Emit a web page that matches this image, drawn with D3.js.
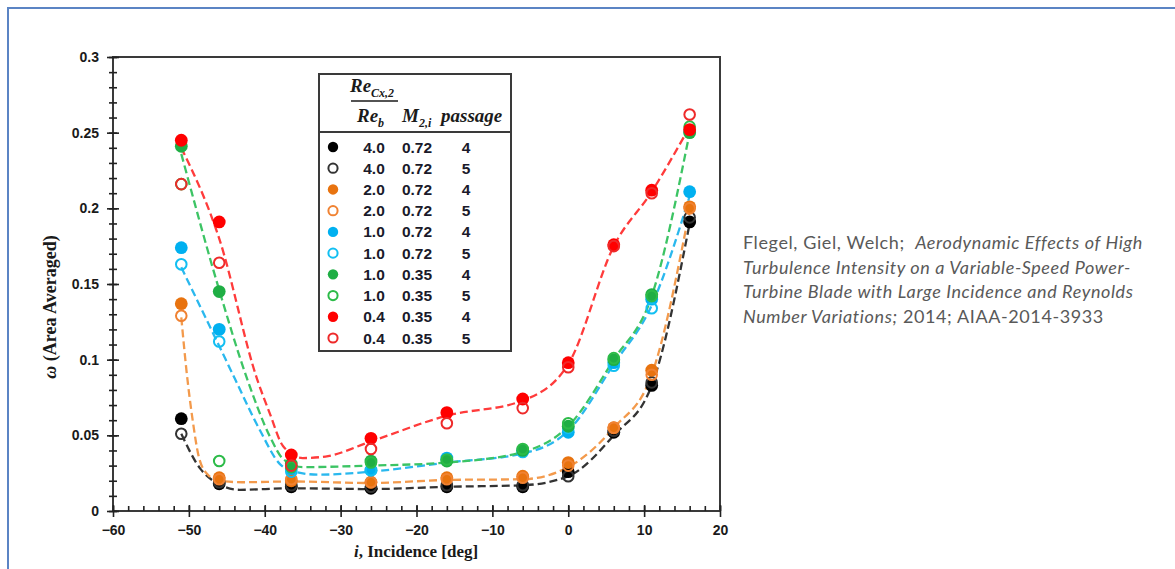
<!DOCTYPE html>
<html>
<head>
<meta charset="utf-8">
<script src="https://cdn.jsdelivr.net/npm/d3@7"></script>
<style>
  body { margin: 0; background: #fff; }
  svg { display: block; }
  .tk text { font-family: "Liberation Sans", Arial, sans-serif; font-weight: bold; font-size: 14px; fill: #1a1a1a; }
  .tk path { display: none; }
  .tk line { stroke: #222; stroke-width: 1.6; }
</style>
</head>
<body>
<svg width="1175" height="569"></svg>
<script>
// incidence angles (deg) where the points were measured
var incidence = [-51, -46, -36.5, -26, -16, -6, 0, 6, 11, 16];

// omega, area averaged, one list per legend row
var re40m72p4 = [0.061, 0.018, 0.016, 0.015, 0.016, 0.016, 0.026, 0.052, 0.083, 0.191];
var re40m72p5 = [0.051, 0.019, 0.017, 0.016, 0.017, 0.017, 0.023, 0.053, 0.085, 0.194];
var re20m72p4 = [0.137, 0.022, 0.020, 0.019, 0.022, 0.023, 0.032, 0.055, 0.093, 0.201];
var re20m72p5 = [0.129, 0.021, 0.021, 0.019, 0.021, 0.022, 0.030, 0.055, 0.090, 0.200];
var re10m72p4 = [0.174, 0.120, 0.028, 0.027, 0.035, 0.040, 0.052, 0.098, 0.140, 0.211];
var re10m72p5 = [0.163, 0.112, 0.026, 0.027, 0.034, 0.039, 0.055, 0.096, 0.134, 0.251];
var re10m35p4 = [0.241, 0.145, 0.031, 0.033, 0.033, 0.040, 0.056, 0.100, 0.143, 0.250];
var re10m35p5 = [0.216, 0.033, 0.029, 0.032, 0.034, 0.041, 0.058, 0.101, 0.142, 0.254];
var re04m35p4 = [0.245, 0.191, 0.037, 0.048, 0.065, 0.074, 0.098, 0.176, 0.212, 0.252];
var re04m35p5 = [0.216, 0.164, 0.030, 0.041, 0.058, 0.068, 0.095, 0.175, 0.210, 0.262];

// dashed trend curves, knots [incidence, omega]
var trendBlack  = [[-51, 0.051], [-48.5, 0.028], [-46.8, 0.020], [-43.3, 0.014], [-36.5, 0.015], [-26, 0.0145], [-16, 0.016], [-6, 0.017], [0, 0.023], [6, 0.050], [11, 0.083], [16, 0.190]];
var trendOrange = [[-51, 0.128], [-50.3, 0.092], [-49.5, 0.060], [-48.7, 0.036], [-47.5, 0.024], [-46, 0.020], [-43, 0.019], [-36.5, 0.0195], [-26, 0.0185], [-16, 0.0205], [-6, 0.021], [0, 0.029], [6, 0.055], [11, 0.090], [16, 0.199]];
var trendCyan   = [[-51, 0.161], [-46, 0.109], [-43.9, 0.087], [-40.6, 0.053], [-38, 0.031], [-36, 0.026], [-33, 0.024], [-26, 0.026], [-16, 0.032], [-6, 0.038], [0, 0.053], [6, 0.097], [11, 0.136], [16, 0.208]];
var trendGreen  = [[-51, 0.236], [-46, 0.146], [-42.3, 0.087], [-39.3, 0.049], [-37.5, 0.034], [-35, 0.029], [-26, 0.030], [-16, 0.032], [-6, 0.039], [0, 0.056], [6, 0.100], [11, 0.142], [16, 0.250]];
var trendRed    = [[-51, 0.240], [-46, 0.180], [-41, 0.087], [-39.3, 0.064], [-37.6, 0.043], [-35, 0.035], [-32, 0.036], [-26, 0.046], [-16, 0.063], [-6, 0.073], [0, 0.097], [6, 0.175], [11, 0.211], [16, 0.254]];

// legend table columns
var legendRe      = ["4.0", "4.0", "2.0", "2.0", "1.0", "1.0", "1.0", "1.0", "0.4", "0.4"];
var legendMach    = ["0.72", "0.72", "0.72", "0.72", "0.72", "0.72", "0.35", "0.35", "0.35", "0.35"];
var legendPassage = ["4", "5", "4", "5", "4", "5", "4", "5", "4", "5"];

// axis ticks
var xTicks = [-60, -50, -40, -30, -20, -10, 0, 10, 20];
var yTicks = [0, 0.05, 0.1, 0.15, 0.2, 0.25, 0.3];
var yTickLabels = ["0", "0.05", "0.1", "0.15", "0.2", "0.25", "0.3"];

var citation = [
    [["Flegel, Giel, Welch;  ", false], ["Aerodynamic Effects of High", true]],
    [["Turbulence Intensity on a Variable-Speed Power-", true]],
    [["Turbine Blade with Large Incidence and Reynolds", true]],
    [["Number Variations;", true], [" 2014; AIAA-2014-3933", false]]
];

function makeChart() {
    var svg = d3.select("svg");
    var x0 = 113, x1 = 720, y0 = 511, y1 = 57;

    var scX = d3.scaleLinear().domain([-60, 20]).range([x0, x1]);
    var scY = d3.scaleLinear().domain([0, 0.3]).range([y0, y1]);

    // slide frame
    svg.append("rect").attr("x", 8).attr("y", 8).attr("width", 1200).attr("height", 600)
        .attr("fill", "none").attr("stroke", "#5b84c4").attr("stroke-width", 2);

    // plot frame
    svg.append("rect").attr("x", x0).attr("y", y1).attr("width", x1 - x0).attr("height", y0 - y1)
        .attr("fill", "none").attr("stroke", "#3a3a3a").attr("stroke-width", 2);

    // y axis, minor then major
    svg.append("g").attr("class", "tk").attr("transform", "translate(" + x0 + ",0)")
        .call(d3.axisLeft(scY).tickValues(d3.range(0, 31).map(i => i / 100)).tickSize(4).tickFormat(""))
        .selectAll("line").attr("x1", 4);
    var gy = svg.append("g").attr("class", "tk").attr("transform", "translate(" + x0 + ",0)")
        .call(d3.axisLeft(scY).tickValues(yTicks).tickSize(6).tickPadding(8)
            .tickFormat((d, i) => yTickLabels[i]));
    gy.selectAll("line").attr("x1", 6);

    // x axis, minor then major
    svg.append("g").attr("class", "tk").attr("transform", "translate(0," + y0 + ")")
        .call(d3.axisBottom(scX).tickValues(d3.range(-60, 21, 2)).tickSize(-5).tickFormat(""));
    var gx = svg.append("g").attr("class", "tk").attr("transform", "translate(0," + y0 + ")")
        .call(d3.axisBottom(scX).tickValues(xTicks).tickSize(6).tickPadding(8).tickFormat(d3.format("d")));
    gx.selectAll("line").attr("y1", -6);

    // axis titles
    var xt = svg.append("text").attr("x", 416).attr("y", 557).attr("text-anchor", "middle")
        .attr("font-family", "'Liberation Serif', 'Times New Roman', serif").attr("font-weight", "bold")
        .attr("font-size", 17).attr("fill", "#1a1a1a");
    xt.append("tspan").attr("font-style", "italic").text("i");
    xt.append("tspan").text(", Incidence [deg]");

    var yt = svg.append("text").attr("transform", "translate(56,307) rotate(-90)").attr("text-anchor", "middle")
        .attr("font-family", "'Liberation Serif', 'Times New Roman', serif").attr("font-weight", "bold")
        .attr("font-size", 18).attr("fill", "#1a1a1a");
    yt.append("tspan").attr("font-style", "italic").text("ω");
    yt.append("tspan").text(" (Area Averaged)");

    // dashed trend lines
    var lineMaker = d3.line()
        .x(d => scX(d[0]))
        .y(d => scY(d[1]))
        .curve(d3.curveMonotoneX);

    var trends = [
        [trendBlack, "#333333"],
        [trendOrange, "#f39a4c"],
        [trendCyan, "#2ab8ee"],
        [trendGreen, "#3cc464"],
        [trendRed, "#ff3b3b"]
    ];
    svg.append("g").selectAll("path").data(trends).enter().append("path")
        .attr("fill", "none").attr("stroke", d => d[1]).attr("stroke-width", 2.3)
        .attr("stroke-dasharray", "8,4")
        .attr("d", d => lineMaker(d[0]));

    // measured points
    var series = [
        [re40m72p4, "#000000", true],
        [re40m72p5, "#333333", false],
        [re20m72p4, "#e8730f", true],
        [re20m72p5, "#f08232", false],
        [re10m72p4, "#00b0f0", true],
        [re10m72p5, "#12bff2", false],
        [re10m35p4, "#1fae44", true],
        [re10m35p5, "#2cbb48", false],
        [re04m35p4, "#ff0000", true],
        [re04m35p5, "#ee2a2a", false]
    ];

    series.forEach(function (s) {
        svg.append("g").selectAll("circle")
            .data(incidence.map((x, i) => [x, s[0][i]])).enter().append("circle")
            .attr("cx", d => scX(d[0])).attr("cy", d => scY(d[1]))
            .attr("r", s[2] ? 6.4 : 5.3)
            .attr("fill", s[2] ? s[1] : "none")
            .attr("stroke", s[1]).attr("stroke-width", s[2] ? 0 : 2);
    });

    // legend table
    var lg = svg.append("g");
    lg.append("rect").attr("x", 319).attr("y", 74).attr("width", 192).attr("height", 277)
        .attr("fill", "#fff").attr("stroke", "#3a3a3a").attr("stroke-width", 2);
    lg.append("line").attr("x1", 319).attr("x2", 511).attr("y1", 132).attr("y2", 132)
        .attr("stroke", "#3a3a3a").attr("stroke-width", 2);

    var serif = "'Liberation Serif', 'Times New Roman', serif";
    function head(x, y, main, sub) {
        var t = lg.append("text").attr("x", x).attr("y", y)
            .attr("font-family", serif).attr("font-style", "italic").attr("font-weight", "bold")
            .attr("font-size", 19).attr("fill", "#1a1a1a");
        t.append("tspan").text(main);
        if (sub) t.append("tspan").attr("font-size", 12).attr("dy", 5).text(sub);
    }
    head(350, 92, "Re", "Cx,2");
    lg.append("line").attr("x1", 351).attr("x2", 398).attr("y1", 101).attr("y2", 101)
        .attr("stroke", "#1a1a1a").attr("stroke-width", 1.5);
    head(357, 122, "Re", "b");
    head(402, 122, "M", "2,i");
    lg.append("text").attr("x", 441).attr("y", 122)
        .attr("font-family", serif).attr("font-style", "italic").attr("font-weight", "bold")
        .attr("font-size", 19).attr("fill", "#1a1a1a").text("passage");

    var rowY = d3.scaleLinear().domain([0, 9]).range([147, 338]);
    var rows = lg.selectAll("g.row").data(series).enter().append("g")
        .attr("transform", (d, i) => "translate(0," + rowY(i) + ")");
    rows.append("circle").attr("cx", 333).attr("cy", 0)
        .attr("r", d => d[2] ? 5.2 : 4.6)
        .attr("fill", d => d[2] ? d[1] : "none")
        .attr("stroke", d => d[1]).attr("stroke-width", d => d[2] ? 0 : 2);
    var cols = [[legendRe, 374], [legendMach, 417], [legendPassage, 466]];
    cols.forEach(function (c) {
        rows.append("text").attr("x", c[1]).attr("y", 5.5).attr("text-anchor", "middle")
            .attr("font-family", "'Liberation Sans', Arial, sans-serif").attr("font-weight", "bold")
            .attr("font-size", 15.5).attr("fill", "#1a1a2a")
            .text((d, i) => c[0][i]);
    });

    // citation
    var ct = svg.append("text").attr("font-family", "Lato, 'Open Sans', sans-serif")
        .attr("font-size", 18).attr("letter-spacing", 0.6).attr("fill", "#595959");
    citation.forEach(function (line, li) {
        line.forEach(function (part, pi) {
            var sp = ct.append("tspan").attr("xml:space", "preserve")
                .attr("font-style", part[1] ? "italic" : "normal").text(part[0]);
            if (pi === 0) sp.attr("x", 743).attr("y", 249 + li * 24.5);
        });
    });
}

makeChart();
</script>
</body>
</html>
